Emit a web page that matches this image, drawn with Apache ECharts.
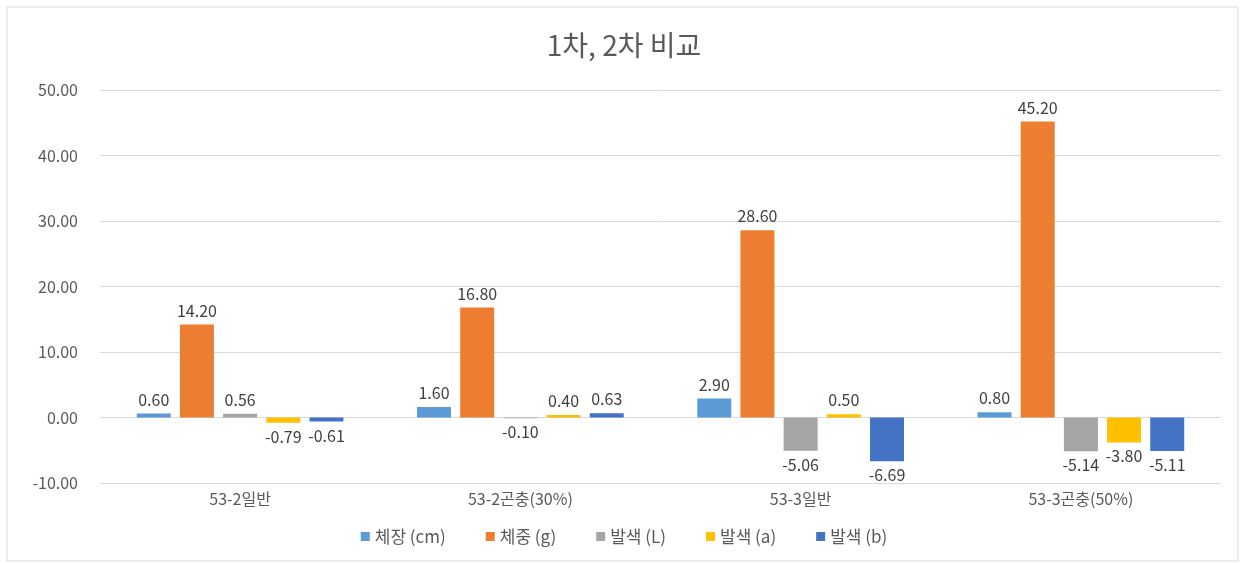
<!DOCTYPE html>
<html>
<head>
<meta charset="utf-8">
<script src="https://cdn.jsdelivr.net/npm/echarts@6/dist/echarts.min.js"></script>
<style>
html,body{margin:0;padding:0;background:#fff;}
#chart{width:1248px;height:563px;}
</style>
</head>
<body>
<div id="chart"></div>
<script>
const categories = ['53-2일반', '53-2곤충(30%)', '53-3일반', '53-3곤충(50%)'];
const seriesNames = ['체장 (cm)', '체중 (g)', '발색 (L)', '발색 (a)', '발색 (b)'];
const bodyLength = [0.60, 1.60, 2.90, 0.80];
const bodyWeight = [14.20, 16.80, 28.60, 45.20];
const colorL = [0.56, -0.10, -5.06, -5.14];
const colorA = [-0.79, 0.40, 0.50, -3.80];
const colorB = [-0.61, 0.63, -6.69, -5.11];
const yTicks = { min: -10, max: 50, interval: 10 };

const colors = ['#5B9BD5', '#ED7D31', '#A5A5A5', '#FFC000', '#4472C4'];
const allValues = [bodyLength, bodyWeight, colorL, colorA, colorB];
const FONT = "'Noto Sans CJK KR', 'Noto Sans', sans-serif";

const series = allValues.map((vals, i) => ({
  name: seriesNames[i],
  type: 'bar',
  barWidth: 34,
  barGap: '27%',
  itemStyle: { color: colors[i] },
  data: vals.map(v => ({
    value: v,
    label: { position: v < 0 ? 'bottom' : 'top' }
  })),
  label: {
    show: true,
    distance: 6,
    color: '#404040',
    fontSize: 16,
    fontFamily: FONT,
    formatter: p => Number(p.value).toFixed(2)
  }
}));

const chart = echarts.init(document.getElementById('chart'));
chart.setOption({
  animation: false,
  color: colors,
  textStyle: { fontFamily: FONT },
  title: {
    text: '1차, 2차 비교',
    left: 'center',
    top: 26,
    textStyle: { fontSize: 28, fontWeight: 'normal', color: '#595959', fontFamily: FONT }
  },
  legend: {
    bottom: 13,
    left: 'center',
    icon: 'rect',
    itemWidth: 9,
    itemHeight: 9,
    itemGap: 40,
    textStyle: { fontSize: 17, color: '#595959', fontFamily: FONT }
  },
  grid: { left: 100, right: 27, top: 90, bottom: 80, containLabel: false },
  xAxis: {
    type: 'category',
    data: categories,
    axisLine: { show: false, onZero: false },
    axisTick: { show: false },
    axisLabel: { color: '#595959', fontSize: 16, margin: 8, fontFamily: FONT }
  },
  yAxis: {
    type: 'value',
    min: yTicks.min,
    max: yTicks.max,
    interval: yTicks.interval,
    axisLine: { show: false },
    axisTick: { show: false },
    splitLine: { lineStyle: { color: '#D9D9D9', width: 1 } },
    axisLabel: {
      color: '#595959', fontSize: 16, margin: 22, fontFamily: FONT,
      formatter: v => v.toFixed(2)
    }
  },
  graphic: [{
    type: 'rect',
    shape: { x: 7, y: 7, width: 1231, height: 554 },
    style: { fill: 'none', stroke: '#D9D9D9', lineWidth: 1 },
    silent: true,
    z: -1
  }],
  series: series
});
</script>
</body>
</html>
